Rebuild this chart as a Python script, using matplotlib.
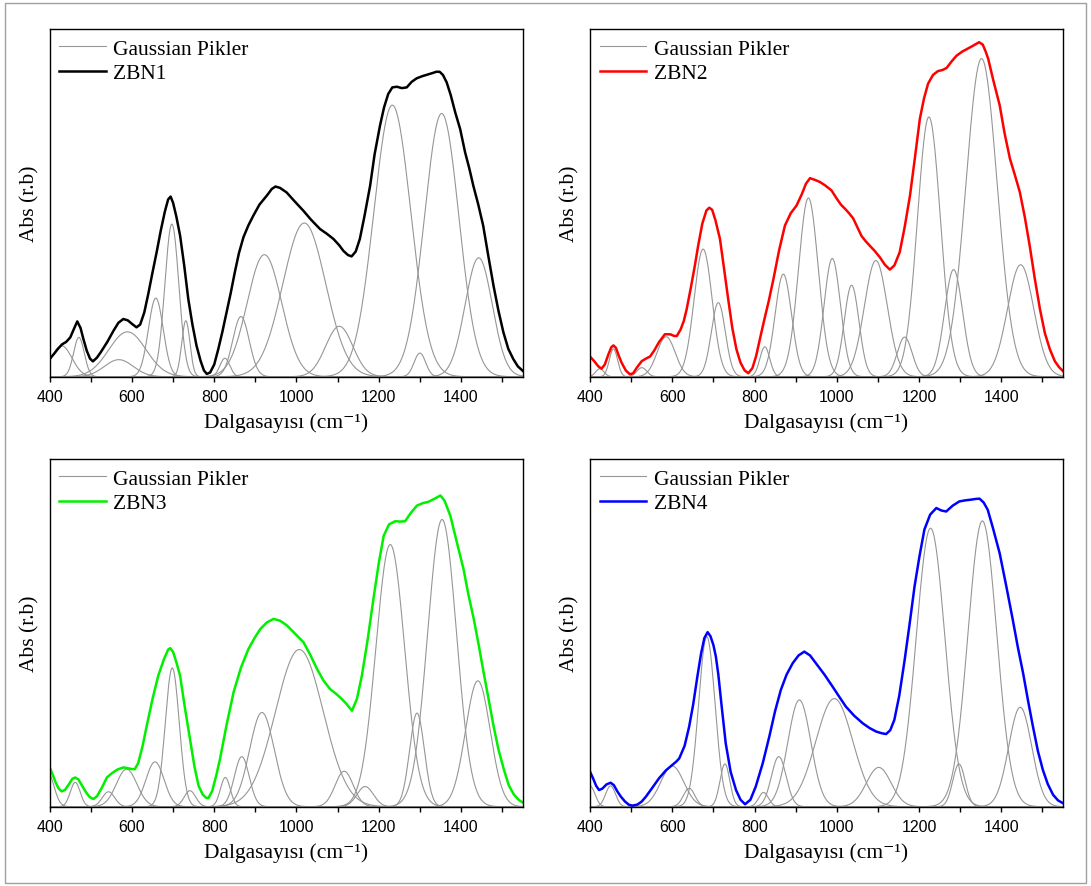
import numpy as np
import matplotlib
matplotlib.use("Agg")
import matplotlib.pyplot as plt
from matplotlib.patches import Rectangle

plt.rcParams["font.family"] = ["Liberation Serif", "DejaVu Serif"]

# ZBN1 spectrum (wavenumber, absorbance)
zbn1_x = [400, 410, 420, 430, 440, 450, 458, 467, 475, 482, 490, 498, 505, 515, 525, 540,
          555, 567, 579, 590, 600, 611, 620, 630, 640, 650, 660, 670, 680, 688, 694, 700,
          708, 717, 727, 737, 747, 757, 767, 775, 782, 790, 800, 810, 820, 830, 840, 850,
          860, 871, 883, 895, 910, 928, 940, 949, 960, 976, 995, 1017, 1035, 1057, 1075,
          1090, 1104, 1114, 1125, 1134, 1144, 1154, 1165, 1179, 1190, 1203, 1213, 1223,
          1233, 1244, 1256, 1268, 1280, 1292, 1305, 1316, 1330, 1340, 1348, 1356, 1365,
          1375, 1386, 1398, 1410, 1420, 1430, 1442, 1454, 1466, 1479, 1491, 1503, 1515,
          1527, 1538, 1550]
zbn1_y = [0.051, 0.065, 0.080, 0.093, 0.100, 0.113, 0.135, 0.159, 0.140, 0.108, 0.075,
          0.052, 0.044, 0.055, 0.072, 0.100, 0.132, 0.155, 0.166, 0.162, 0.152, 0.142,
          0.150, 0.185, 0.240, 0.300, 0.358, 0.420, 0.475, 0.510, 0.518, 0.500, 0.460,
          0.406, 0.320, 0.223, 0.150, 0.089, 0.045, 0.018, 0.008, 0.012, 0.035, 0.080,
          0.130, 0.185, 0.240, 0.300, 0.355, 0.401, 0.435, 0.463, 0.495, 0.521, 0.540,
          0.547, 0.543, 0.530, 0.505, 0.477, 0.452, 0.425, 0.410, 0.396, 0.378, 0.362,
          0.350, 0.346, 0.360, 0.396, 0.460, 0.549, 0.640, 0.722, 0.775, 0.813, 0.832,
          0.834, 0.830, 0.832, 0.848, 0.858, 0.864, 0.868, 0.873, 0.877, 0.877, 0.868,
          0.847, 0.810, 0.760, 0.712, 0.645, 0.600, 0.549, 0.495, 0.434, 0.350, 0.262,
          0.190, 0.128, 0.080, 0.051, 0.030, 0.017]
zbn1_cen = [429, 471, 568, 589, 658, 697, 731, 826, 865, 922, 1019, 1104, 1233, 1300, 1353, 1443]
zbn1_amp = [0.089, 0.113, 0.049, 0.129, 0.226, 0.439, 0.161, 0.053, 0.173, 0.351, 0.442, 0.145,
            0.781, 0.068, 0.757, 0.342]
zbn1_sig = [25, 13, 35, 45, 18, 17, 10, 12, 20, 42, 52, 33, 45, 14, 42, 33]

# ZBN2 spectrum
zbn2_x = [400, 410, 420, 428, 436, 445, 452, 457, 463, 470, 477, 487, 497, 505, 515, 526,
          536, 546, 556, 568, 582, 595, 605, 611, 620, 628, 635, 645, 655, 663, 673, 683,
          690, 697, 705, 716, 726, 736, 746, 756, 766, 776, 785, 795, 804, 813, 823, 835,
          846, 860, 874, 888, 902, 915, 925, 935, 947, 959, 972, 987, 1000, 1010, 1020,
          1030, 1040, 1050, 1060, 1070, 1080, 1092, 1105, 1117, 1129, 1140, 1153, 1165,
          1178, 1190, 1202, 1212, 1222, 1234, 1246, 1257, 1267, 1280, 1291, 1305, 1319,
          1333, 1346, 1355, 1362, 1368, 1380, 1396, 1408, 1421, 1433, 1445, 1457, 1469,
          1481, 1494, 1506, 1518, 1530, 1540, 1550]
zbn2_y = [0.058, 0.045, 0.030, 0.023, 0.035, 0.065, 0.085, 0.090, 0.083, 0.060, 0.040,
          0.018, 0.007, 0.010, 0.028, 0.045, 0.052, 0.058, 0.075, 0.100, 0.122, 0.122,
          0.117, 0.117, 0.135, 0.160, 0.194, 0.255, 0.320, 0.377, 0.440, 0.478, 0.486,
          0.480, 0.450, 0.396, 0.310, 0.223, 0.140, 0.079, 0.040, 0.018, 0.010, 0.025,
          0.060, 0.108, 0.160, 0.220, 0.281, 0.365, 0.435, 0.470, 0.492, 0.525, 0.555,
          0.571, 0.566, 0.560, 0.550, 0.536, 0.512, 0.495, 0.483, 0.470, 0.455, 0.430,
          0.405, 0.390, 0.377, 0.362, 0.343, 0.322, 0.308, 0.320, 0.358, 0.430, 0.521,
          0.630, 0.742, 0.800, 0.843, 0.868, 0.879, 0.882, 0.888, 0.908, 0.923, 0.935,
          0.944, 0.953, 0.962, 0.955, 0.935, 0.915, 0.855, 0.781, 0.700, 0.627, 0.580,
          0.531, 0.460, 0.377, 0.285, 0.194, 0.125, 0.079, 0.045, 0.028, 0.016]
zbn2_cen = [424, 457, 526, 585, 675, 712, 825, 870, 931, 989, 1036, 1095, 1165, 1224, 1284, 1352, 1447]
zbn2_amp = [0.023, 0.080, 0.026, 0.115, 0.367, 0.213, 0.086, 0.295, 0.514, 0.340, 0.263, 0.334,
            0.114, 0.747, 0.308, 0.915, 0.322]
zbn2_sig = [10, 10, 12, 22, 22, 17, 12, 20, 24, 20, 18, 28, 18, 28, 22, 38, 32]

# ZBN3 spectrum
zbn3_x = [400, 408, 415, 422, 429, 437, 447, 455, 462, 470, 478, 488, 497, 506, 515, 527,
          539, 552, 565, 579, 593, 600, 607, 615, 625, 636, 650, 664, 678, 688, 693, 700,
          708, 717, 728, 741, 752, 762, 772, 780, 786, 795, 805, 814, 830, 847, 865, 883,
          898, 912, 928, 944, 960, 977, 997, 1017, 1033, 1050, 1066, 1082, 1096, 1110,
          1122, 1135, 1147, 1159, 1173, 1187, 1200, 1212, 1225, 1240, 1252, 1264, 1278,
          1293, 1307, 1321, 1336, 1350, 1360, 1374, 1390, 1406, 1418, 1431, 1443, 1455,
          1467, 1479, 1491, 1504, 1516, 1528, 1540, 1550]
zbn3_y = [0.113, 0.090, 0.068, 0.052, 0.044, 0.048, 0.065, 0.080, 0.084, 0.078, 0.062,
          0.042, 0.028, 0.022, 0.030, 0.055, 0.084, 0.097, 0.107, 0.113, 0.110, 0.108,
          0.108, 0.125, 0.170, 0.233, 0.310, 0.377, 0.425, 0.452, 0.456, 0.445, 0.415,
          0.377, 0.290, 0.195, 0.115, 0.060, 0.035, 0.026, 0.025, 0.045, 0.090, 0.137,
          0.235, 0.329, 0.400, 0.453, 0.485, 0.511, 0.530, 0.540, 0.535, 0.521, 0.497,
          0.473, 0.438, 0.396, 0.362, 0.338, 0.325, 0.310, 0.295, 0.276, 0.310, 0.377,
          0.480, 0.597, 0.700, 0.779, 0.812, 0.821, 0.820, 0.821, 0.845, 0.866, 0.873,
          0.877, 0.886, 0.895, 0.880, 0.837, 0.760, 0.684, 0.610, 0.540, 0.465, 0.386,
          0.310, 0.233, 0.165, 0.108, 0.062, 0.036, 0.020, 0.012]
zbn3_cen = [395, 462, 543, 587, 656, 698, 741, 827, 867, 916, 1007, 1116, 1167, 1228, 1293, 1354, 1441]
zbn3_amp = [0.100, 0.070, 0.043, 0.108, 0.129, 0.399, 0.046, 0.084, 0.144, 0.271, 0.452, 0.102,
            0.058, 0.754, 0.269, 0.826, 0.362]
zbn3_sig = [15, 12, 15, 25, 22, 17, 14, 12, 18, 30, 58, 22, 20, 35, 18, 35, 30]

# ZBN4 spectrum
zbn4_x = [400, 408, 415, 422, 430, 440, 450, 458, 466, 475, 485, 494, 503, 515, 525, 536,
          550, 568, 585, 600, 610, 617, 630, 641, 651, 661, 670, 678, 686, 693, 700, 706,
          712, 720, 730, 742, 755, 766, 777, 790, 803, 820, 836, 850, 864, 878, 893, 907,
          921, 935, 949, 970, 990, 1005, 1022, 1042, 1063, 1080, 1096, 1110, 1120, 1130,
          1140, 1152, 1165, 1177, 1189, 1201, 1213, 1227, 1242, 1254, 1266, 1282, 1298,
          1312, 1326, 1337, 1347, 1357, 1367, 1380, 1396, 1412, 1428, 1440, 1453, 1465,
          1477, 1489, 1501, 1513, 1526, 1538, 1550]
zbn4_y = [0.101, 0.080, 0.060, 0.048, 0.052, 0.064, 0.069, 0.062, 0.045, 0.029, 0.015,
          0.006, 0.003, 0.006, 0.014, 0.029, 0.052, 0.082, 0.105, 0.120, 0.130, 0.139,
          0.175, 0.230, 0.295, 0.374, 0.440, 0.485, 0.502, 0.490, 0.465, 0.432, 0.380,
          0.290, 0.182, 0.100, 0.048, 0.020, 0.007, 0.020, 0.058, 0.125, 0.202, 0.275,
          0.336, 0.380, 0.413, 0.435, 0.446, 0.435, 0.413, 0.380, 0.345, 0.318, 0.288,
          0.262, 0.240, 0.226, 0.216, 0.211, 0.209, 0.220, 0.250, 0.320, 0.422, 0.525,
          0.633, 0.720, 0.797, 0.840, 0.859, 0.852, 0.849, 0.866, 0.878, 0.881, 0.883,
          0.885, 0.886, 0.875, 0.854, 0.800, 0.729, 0.635, 0.537, 0.460, 0.384, 0.305,
          0.230, 0.160, 0.106, 0.065, 0.034, 0.018, 0.010]
zbn4_cen = [400, 450, 600, 641, 684, 728, 822, 859, 909, 994, 1102, 1228, 1297, 1354, 1446]
zbn4_amp = [0.060, 0.060, 0.117, 0.053, 0.489, 0.123, 0.041, 0.144, 0.307, 0.311, 0.113, 0.801,
            0.123, 0.822, 0.286]
zbn4_sig = [12, 12, 28, 14, 20, 12, 12, 18, 28, 45, 30, 35, 15, 35, 28]

panels = [
    ("ZBN1", "black", zbn1_x, zbn1_y, zbn1_cen, zbn1_amp, zbn1_sig),
    ("ZBN2", "#ff0000", zbn2_x, zbn2_y, zbn2_cen, zbn2_amp, zbn2_sig),
    ("ZBN3", "#00f000", zbn3_x, zbn3_y, zbn3_cen, zbn3_amp, zbn3_sig),
    ("ZBN4", "#0000ff", zbn4_x, zbn4_y, zbn4_cen, zbn4_amp, zbn4_sig),
]

W, H = 1091, 887
fig = plt.figure(figsize=(W / 100, H / 100), dpi=100)
fig.patches.append(Rectangle((5 / W, 3 / H), 1081 / W, 880 / H, transform=fig.transFigure,
                             fill=False, edgecolor="#a0a0a0", linewidth=1.0))

ax_w, ax_h = 473 / W, 347.7 / H
lefts = [49.7 / W, 590 / W]
bottoms = [1 - 377.7 / H, 1 - 807.7 / H]
positions = [(lefts[0], bottoms[0]), (lefts[1], bottoms[0]),
             (lefts[0], bottoms[1]), (lefts[1], bottoms[1])]

wn = np.linspace(400, 1550, 1151)

for (name, color, sx, sy, cen, amp, sig), (l, b) in zip(panels, positions):
    ax = fig.add_axes([l, b, ax_w, ax_h])
    # individual Gaussian components
    for i, (c, a, s) in enumerate(zip(cen, amp, sig)):
        g = a * np.exp(-0.5 * ((wn - c) / s) ** 2)
        ax.plot(wn, g, color="#969696", lw=0.8,
                label="Gaussian Pikler" if i == 0 else None)
    ax.plot(sx, sy, color=color, lw=1.8, label=name)

    ax.set_xlim(400, 1550)
    ax.set_ylim(0, 1)
    ax.set_xticks([400, 600, 800, 1000, 1200, 1400])
    ax.set_xticks(np.arange(500, 1550, 200), minor=True)
    ax.set_yticks([])
    ax.tick_params(axis="x", which="both", direction="out", length=3.5, width=1,
                   pad=5, labelsize=11.5)
    for lab in ax.get_xticklabels():
        lab.set_fontfamily("Liberation Sans")
    for sp in ax.spines.values():
        sp.set_linewidth(1.0)

    ax.set_xlabel("Dalgasayısı (cm⁻¹)", fontsize=15.5)
    ax.xaxis.set_label_coords(0.5, -0.102)
    ax.set_ylabel("Abs (r.b)", fontsize=15.5)
    ax.yaxis.set_label_coords(-0.022, 0.5)

    ax.legend(loc="upper left", frameon=False, fontsize=15.5, handlelength=2.15,
              handletextpad=0.35, labelspacing=0.2, borderaxespad=0.15,
              borderpad=0.3)

fig.savefig("out.png", dpi=100)
